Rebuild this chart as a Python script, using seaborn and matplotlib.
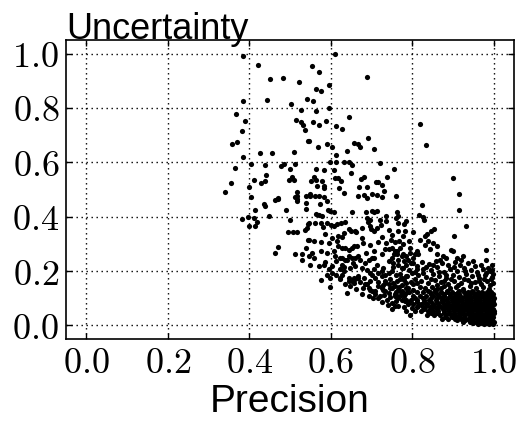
import pandas as pd
import matplotlib
matplotlib.use('Agg')
import matplotlib.pyplot as plt
import seaborn as sns

# (precision, uncertainty) pairs
# sparse cloud in the upper left
upper_points = [
    (0.385, 0.993), (0.422, 0.958), (0.451, 0.908), (0.482, 0.911), (0.521, 0.897),
    (0.385, 0.824), (0.443, 0.830), (0.502, 0.813), (0.541, 0.834), (0.526, 0.791),
    (0.368, 0.777), (0.389, 0.753), (0.515, 0.755), (0.528, 0.748), (0.533, 0.737),
    (0.536, 0.719), (0.382, 0.715), (0.370, 0.673), (0.357, 0.666), (0.545, 0.678),
    (0.385, 0.620), (0.427, 0.636), (0.456, 0.633), (0.511, 0.638), (0.366, 0.579),
    (0.403, 0.592), (0.439, 0.591), (0.477, 0.588), (0.486, 0.595), (0.512, 0.592),
    (0.500, 0.577), (0.442, 0.552), (0.506, 0.545), (0.355, 0.524), (0.412, 0.534),
    (0.428, 0.525), (0.438, 0.531), (0.498, 0.534), (0.510, 0.535), (0.400, 0.508),
    (0.610, 1.000), (0.554, 0.956), (0.571, 0.934), (0.690, 0.914), (0.596, 0.884),
    (0.565, 0.868), (0.575, 0.862), (0.556, 0.824), (0.596, 0.801), (0.564, 0.790),
    (0.645, 0.768), (0.557, 0.747), (0.571, 0.739), (0.588, 0.752), (0.614, 0.734),
    (0.627, 0.723), (0.546, 0.678), (0.691, 0.689), (0.658, 0.671), (0.668, 0.666),
    (0.672, 0.658), (0.590, 0.666), (0.568, 0.656), (0.604, 0.657), (0.706, 0.650),
    (0.639, 0.642), (0.612, 0.628), (0.597, 0.600), (0.613, 0.600), (0.632, 0.603),
    (0.645, 0.601), (0.652, 0.591), (0.721, 0.597), (0.756, 0.574), (0.564, 0.574),
    (0.583, 0.570), (0.609, 0.573), (0.650, 0.562), (0.558, 0.545), (0.552, 0.532),
    (0.565, 0.536), (0.579, 0.531), (0.610, 0.542), (0.618, 0.541), (0.625, 0.532),
    (0.674, 0.539), (0.682, 0.545), (0.739, 0.546), (0.712, 0.529), (0.717, 0.528),
    (0.566, 0.514), (0.583, 0.514), (0.584, 0.506), (0.621, 0.506), (0.670, 0.508),
    (0.690, 0.510), (0.727, 0.515), (0.819, 0.742), (0.834, 0.662), (0.900, 0.541),
]

# middle part of the cloud
middle_points = [
    (0.341, 0.490), (0.404, 0.473), (0.436, 0.445), (0.439, 0.438), (0.464, 0.460),
    (0.470, 0.466), (0.517, 0.490), (0.517, 0.475), (0.517, 0.465), (0.517, 0.458),
    (0.539, 0.477), (0.539, 0.451), (0.539, 0.430), (0.489, 0.426), (0.414, 0.423),
    (0.449, 0.403), (0.396, 0.400), (0.381, 0.392), (0.411, 0.396), (0.418, 0.382),
    (0.399, 0.364), (0.413, 0.365), (0.499, 0.389), (0.544, 0.373), (0.537, 0.351),
    (0.542, 0.357), (0.496, 0.343), (0.507, 0.344), (0.516, 0.342), (0.545, 0.316),
    (0.471, 0.289), (0.463, 0.267), (0.540, 0.285), (0.530, 0.262), (0.512, 0.264),
    (0.529, 0.239), (0.513, 0.473), (0.550, 0.485), (0.471, 0.469),
    (0.549, 0.477), (0.561, 0.477), (0.572, 0.475), (0.583, 0.473), (0.574, 0.448),
    (0.592, 0.459), (0.632, 0.487), (0.668, 0.477), (0.681, 0.481), (0.689, 0.469),
    (0.701, 0.485), (0.714, 0.481), (0.725, 0.473), (0.731, 0.496), (0.761, 0.475),
    (0.593, 0.426), (0.598, 0.420), (0.607, 0.416), (0.565, 0.411), (0.571, 0.408),
    (0.578, 0.403), (0.546, 0.377), (0.562, 0.377), (0.575, 0.377), (0.580, 0.361),
    (0.591, 0.377), (0.601, 0.368), (0.608, 0.365), (0.616, 0.373), (0.624, 0.377),
    (0.634, 0.379), (0.653, 0.416), (0.686, 0.416), (0.701, 0.420), (0.707, 0.416),
    (0.714, 0.420), (0.689, 0.396), (0.697, 0.387), (0.691, 0.381), (0.720, 0.387),
    (0.735, 0.403), (0.735, 0.383), (0.762, 0.416), (0.764, 0.401), (0.759, 0.396),
    (0.644, 0.356), (0.650, 0.349), (0.663, 0.343), (0.660, 0.349), (0.696, 0.367),
    (0.698, 0.355), (0.707, 0.346), (0.713, 0.359), (0.742, 0.350), (0.764, 0.377),
    (0.766, 0.346), (0.546, 0.316), (0.558, 0.312), (0.575, 0.307), (0.595, 0.304),
    (0.603, 0.322), (0.619, 0.328), (0.627, 0.324), (0.615, 0.312), (0.676, 0.322),
    (0.680, 0.304), (0.717, 0.307), (0.735, 0.304), (0.748, 0.313), (0.758, 0.307),
    (0.768, 0.312), (0.652, 0.285), (0.644, 0.279), (0.636, 0.285), (0.664, 0.291),
    (0.744, 0.282), (0.758, 0.273), (0.771, 0.285), (0.763, 0.261), (0.554, 0.267),
    (0.546, 0.254), (0.558, 0.249), (0.575, 0.273), (0.591, 0.267), (0.607, 0.273),
    (0.611, 0.254), (0.627, 0.249), (0.640, 0.242), (0.644, 0.254), (0.660, 0.249),
    (0.672, 0.242), (0.668, 0.254), (0.693, 0.242), (0.705, 0.249), (0.742, 0.236),
    (0.750, 0.249), (0.756, 0.261), (0.766, 0.242), (0.774, 0.254), (0.550, 0.224),
    (0.570, 0.218), (0.583, 0.224), (0.595, 0.206), (0.603, 0.218), (0.591, 0.187),
    (0.599, 0.175), (0.603, 0.194), (0.623, 0.206), (0.627, 0.187), (0.623, 0.169),
    (0.636, 0.151), (0.644, 0.163), (0.656, 0.157), (0.660, 0.169), (0.668, 0.175),
    (0.648, 0.144), (0.575, 0.166), (0.597, 0.142), (0.640, 0.120), (0.697, 0.194),
    (0.705, 0.206), (0.717, 0.194), (0.725, 0.199), (0.734, 0.187), (0.742, 0.194),
    (0.680, 0.138), (0.689, 0.151), (0.697, 0.132), (0.693, 0.108), (0.709, 0.126),
    (0.717, 0.144), (0.729, 0.132), (0.742, 0.120), (0.721, 0.108), (0.737, 0.095),
    (0.750, 0.083), (0.758, 0.108), (0.766, 0.132), (0.774, 0.095), (0.750, 0.059),
    (0.766, 0.071), (0.733, 0.157), (0.754, 0.157), (0.770, 0.169), (0.758, 0.144),
    (0.746, 0.138), (0.627, 0.285), (0.656, 0.291), (0.623, 0.249), (0.636, 0.242),
    (0.652, 0.249), (0.676, 0.212), (0.701, 0.249), (0.627, 0.224), (0.632, 0.199),
    (0.648, 0.212), (0.660, 0.218), (0.644, 0.175), (0.656, 0.175), (0.668, 0.181),
    (0.652, 0.163), (0.623, 0.175), (0.701, 0.187), (0.709, 0.175), (0.725, 0.181),
    (0.734, 0.163), (0.685, 0.151), (0.693, 0.138), (0.701, 0.126), (0.676, 0.114),
    (0.709, 0.114), (0.717, 0.102), (0.725, 0.138), (0.734, 0.126), (0.742, 0.151),
    (0.750, 0.138), (0.758, 0.114), (0.766, 0.102), (0.774, 0.126), (0.782, 0.089),
    (0.790, 0.077), (0.799, 0.065), (0.795, 0.040), (0.807, 0.053), (0.782, 0.114),
    (0.790, 0.138), (0.803, 0.151), (0.762, 0.163), (0.774, 0.175), (0.786, 0.181),
    (0.799, 0.194), (0.811, 0.206), (0.750, 0.285), (0.762, 0.273), (0.778, 0.261),
    (0.790, 0.242), (0.803, 0.230), (0.795, 0.285), (0.807, 0.261), (0.766, 0.224),
    (0.778, 0.212), (0.750, 0.199),
    (0.614, 0.236), (0.633, 0.214), (0.655, 0.229), (0.684, 0.229), (0.688, 0.203),
    (0.714, 0.221), (0.729, 0.212), (0.752, 0.215), (0.681, 0.176), (0.697, 0.163),
    (0.715, 0.161), (0.728, 0.149), (0.745, 0.172), (0.761, 0.187), (0.774, 0.147),
    (0.784, 0.156), (0.704, 0.099), (0.731, 0.113), (0.745, 0.104), (0.760, 0.088),
    (0.772, 0.112), (0.757, 0.073), (0.779, 0.069), (0.785, 0.053), (0.740, 0.074),
    (0.727, 0.087), (0.787, 0.124), (0.761, 0.124), (0.661, 0.135), (0.672, 0.158),
    (0.613, 0.186), (0.585, 0.235), (0.617, 0.291), (0.686, 0.266), (0.707, 0.272),
    (0.725, 0.262), (0.733, 0.281), (0.696, 0.296), (0.726, 0.327), (0.751, 0.331),
    (0.778, 0.300), (0.792, 0.311), (0.585, 0.337), (0.632, 0.341), (0.676, 0.360),
    (0.724, 0.369), (0.779, 0.372), (0.753, 0.230),
]

# right part above the dense corner
right_points = [
    (0.915, 0.485), (0.823, 0.444), (0.915, 0.426), (0.817, 0.406), (0.827, 0.398),
    (0.830, 0.389), (0.931, 0.367), (0.854, 0.353), (0.845, 0.346), (0.837, 0.337),
    (0.831, 0.328), (0.902, 0.328), (0.803, 0.343), (0.782, 0.346), (0.786, 0.383),
    (0.778, 0.328), (0.819, 0.316), (0.839, 0.310), (0.831, 0.297), (0.852, 0.304),
    (0.860, 0.291), (0.844, 0.282), (0.980, 0.279), (0.899, 0.275), (0.980, 0.242),
    (0.996, 0.224), (0.811, 0.273), (0.795, 0.267), (0.786, 0.254), (0.803, 0.249),
    (0.815, 0.261), (0.860, 0.261), (0.876, 0.254), (0.868, 0.242), (0.884, 0.249),
    (0.909, 0.249), (0.925, 0.254), (0.896, 0.279), (0.921, 0.242), (0.949, 0.236),
    (0.781, 0.236), (0.797, 0.228), (0.823, 0.233), (0.842, 0.226), (0.858, 0.238),
    (0.873, 0.229), (0.889, 0.221), (0.905, 0.232), (0.918, 0.224), (0.936, 0.229),
    (0.968, 0.224), (0.985, 0.212), (0.776, 0.213), (0.792, 0.205), (0.808, 0.197),
    (0.827, 0.209), (0.846, 0.203), (0.861, 0.214), (0.879, 0.198), (0.894, 0.207),
    (0.911, 0.201), (0.927, 0.213), (0.944, 0.205), (0.959, 0.198), (0.974, 0.208),
    (0.991, 0.201), (0.771, 0.188), (0.787, 0.181), (0.815, 0.184), (0.834, 0.177),
    (0.851, 0.189), (0.866, 0.181), (0.883, 0.174), (0.899, 0.186), (0.915, 0.178),
    (0.931, 0.189), (0.947, 0.181), (0.963, 0.174), (0.979, 0.186), (0.995, 0.179),
    (0.779, 0.166), (0.796, 0.158), (0.822, 0.162), (0.839, 0.155), (0.855, 0.167),
    (0.871, 0.159), (0.887, 0.152), (0.903, 0.163), (0.921, 0.156), (0.938, 0.167),
    (0.953, 0.159), (0.969, 0.151), (0.984, 0.164), (0.998, 0.157), (0.768, 0.142),
    (0.786, 0.136), (0.803, 0.131), (0.819, 0.143), (0.831, 0.137), (0.848, 0.141),
    (0.862, 0.133), (0.877, 0.144), (0.892, 0.136), (0.908, 0.141), (0.925, 0.134),
    (0.941, 0.145), (0.957, 0.138), (0.973, 0.142), (0.989, 0.135),
    (0.786, 0.224), (0.813, 0.219), (0.834, 0.214), (0.852, 0.222), (0.867, 0.196),
    (0.884, 0.186), (0.902, 0.214), (0.929, 0.199), (0.955, 0.217), (0.981, 0.194),
    (0.806, 0.172), (0.826, 0.191), (0.845, 0.171), (0.862, 0.149), (0.879, 0.163),
    (0.895, 0.171), (0.912, 0.149), (0.928, 0.171), (0.944, 0.156), (0.962, 0.187),
    (0.977, 0.171), (0.991, 0.148), (0.812, 0.157), (0.838, 0.126), (0.855, 0.129),
    (0.870, 0.137), (0.885, 0.128), (0.916, 0.128), (0.948, 0.128), (0.965, 0.163),
    (0.999, 0.190), (0.993, 0.170), (0.997, 0.205),
]

# dense corner near precision 1, read row by row
corner_levels = [0.122, 0.115, 0.108, 0.101, 0.094, 0.087, 0.080, 0.073, 0.066,
                 0.059, 0.052, 0.045, 0.038, 0.031, 0.025, 0.019, 0.013, 0.009, 0.004]
corner_rows = [
    [0.772, 0.791, 0.812, 0.826, 0.844, 0.857, 0.871, 0.886, 0.898, 0.912, 0.926,
     0.937, 0.949, 0.961, 0.972, 0.983, 0.994],
    [0.845, 0.862, 0.878, 0.892, 0.904, 0.915, 0.931, 0.943, 0.955, 0.967, 0.978,
     0.989, 0.999],
    [0.763, 0.781, 0.802, 0.818, 0.835, 0.851, 0.866, 0.879, 0.893, 0.905, 0.917,
     0.929, 0.940, 0.951, 0.962, 0.973, 0.984, 0.995],
    [0.806, 0.826, 0.845, 0.861, 0.874, 0.887, 0.899, 0.911, 0.923, 0.934, 0.945,
     0.956, 0.967, 0.978, 0.989, 1.000],
    [0.784, 0.797, 0.813, 0.829, 0.842, 0.858, 0.872, 0.884, 0.897, 0.909, 0.921,
     0.932, 0.943, 0.954, 0.965, 0.976, 0.987, 0.998],
    [0.792, 0.812, 0.829, 0.846, 0.861, 0.874, 0.887, 0.899, 0.911, 0.923, 0.934,
     0.945, 0.956, 0.967, 0.978, 0.989, 0.999],
    [0.803, 0.821, 0.836, 0.851, 0.864, 0.877, 0.889, 0.901, 0.913, 0.924, 0.935,
     0.946, 0.957, 0.968, 0.979, 0.990, 1.000],
    [0.815, 0.833, 0.850, 0.866, 0.880, 0.893, 0.905, 0.916, 0.927, 0.938, 0.949,
     0.960, 0.971, 0.982, 0.993],
    [0.812, 0.826, 0.843, 0.857, 0.871, 0.883, 0.895, 0.906, 0.917, 0.928, 0.939,
     0.950, 0.961, 0.972, 0.983, 0.994],
    [0.829, 0.846, 0.861, 0.875, 0.888, 0.900, 0.911, 0.922, 0.933, 0.944, 0.955,
     0.966, 0.977, 0.988, 0.998],
    [0.822, 0.838, 0.851, 0.864, 0.878, 0.891, 0.903, 0.914, 0.925, 0.936, 0.947,
     0.958, 0.969, 0.980, 0.991, 1.000],
    [0.847, 0.862, 0.877, 0.890, 0.902, 0.914, 0.925, 0.936, 0.947, 0.958, 0.969,
     0.980, 0.991, 1.000],
    [0.836, 0.853, 0.868, 0.882, 0.895, 0.905, 0.918, 0.930, 0.941, 0.952, 0.963,
     0.974, 0.985, 0.996],
    [0.880, 0.897, 0.913, 0.928, 0.942, 0.956, 0.967, 0.978, 0.989, 0.999],
    [0.872, 0.889, 0.905, 0.921, 0.938, 0.950, 0.961, 0.972, 0.983, 0.994],
    [0.911, 0.930, 0.947, 0.962, 0.975, 0.986, 0.996],
    [0.925, 0.941, 0.956, 0.968, 0.979, 0.990, 1.000],
    [0.950, 0.966, 0.980, 0.993],
    [0.962, 0.976, 0.989, 0.998],
]

tick_values = [0.0, 0.2, 0.4, 0.6, 0.8, 1.0]
tick_labels = ['$0.0$', '$0.2$', '$0.4$', '$0.6$', '$0.8$', '$1.0$']


def build_frame():
    pts = upper_points + middle_points + right_points
    for level, row in zip(corner_levels, corner_rows):
        pts = pts + [(x, level) for x in row]
    return pd.DataFrame(pts, columns=['Precision', 'Uncertainty'])


df = build_frame()

sns.set_style('ticks')
plt.rcParams['font.family'] = ['Liberation Sans', 'DejaVu Sans']
plt.rcParams['mathtext.fontset'] = 'cm'
plt.rcParams['text.color'] = 'black'
plt.rcParams['axes.labelcolor'] = 'black'

fig = plt.figure(figsize=(5.21, 4.23), dpi=100)
ax = fig.add_axes([0.1267, 0.1986, 0.8599, 0.7068])
ax.set_axisbelow(True)
ax.grid(True, color='black', linestyle=(0, (1, 2.6)), linewidth=1)

sns.scatterplot(data=df, x='Precision', y='Uncertainty', color='black',
                s=14, linewidth=0, ax=ax)

ax.set_xlim(-0.05, 1.05)
ax.set_ylim(-0.05, 1.05)
ax.set_xticks(tick_values)
ax.set_xticklabels(tick_labels)
ax.set_yticks(tick_values)
ax.set_yticklabels(tick_labels)
ax.tick_params(direction='in', top=True, right=True, length=4, width=1,
               labelsize=26, pad=5, colors='black')
for s in ax.spines.values():
    s.set_linewidth(1.2)
    s.set_color('black')

ax.set_title('Uncertainty', loc='left', fontsize=26, pad=1, color='black')
ax.set_xlabel('Precision', fontsize=28, labelpad=2, color='black')
ax.set_ylabel('')

fig.savefig('out.png', dpi=100)
